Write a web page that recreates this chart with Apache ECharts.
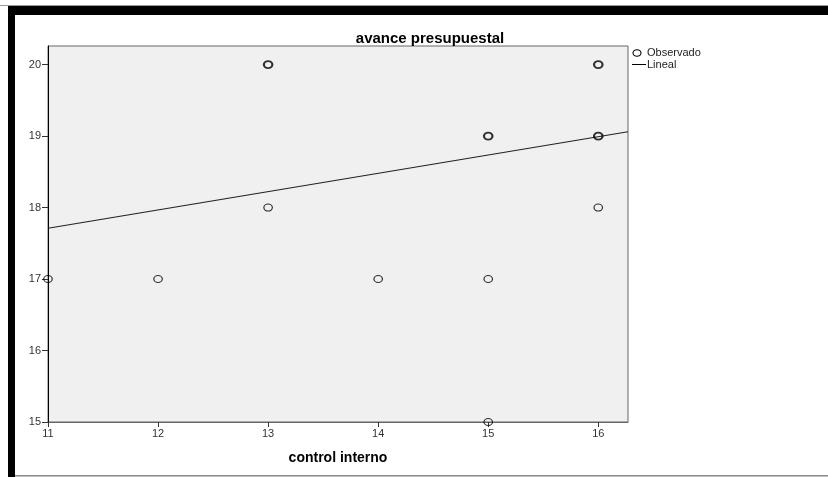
<!DOCTYPE html>
<html>
<head>
<meta charset="utf-8">
<script src="https://cdn.jsdelivr.net/npm/echarts@6/dist/echarts.min.js"></script>
<style>
html,body{margin:0;padding:0;background:#fff;}
#c{width:828px;height:477px;}
</style>
</head>
<body>
<div id="c"></div>
<script>
// Data
const titleText = 'avance presupuestal';
const xName = 'control interno';
const obsX = [11, 12, 13, 13, 14, 15, 15, 15, 16, 16, 16];
const obsY = [17, 17, 20, 18, 17, 19, 17, 15, 20, 19, 18];
const obsCount = [1, 1, 2, 1, 1, 2, 1, 1, 2, 2, 1];
const lineX = [11, 16.27];
const lineY = [17.71, 19.06];
const legendNames = ['Observado', 'Lineal'];

const chart = echarts.init(document.getElementById('c'), null, {renderer: 'canvas'});
const font = 'Arial, "Liberation Sans", sans-serif';

const scatterData = obsX.map((x, i) => ({
  value: [x, obsY[i]],
  itemStyle: {borderWidth: obsCount[i] > 1 ? 2 : 1.1}
}));
const lineData = lineX.map((x, i) => [x, lineY[i]]);

chart.setOption({
  animation: false,
  backgroundColor: '#fff',
  title: {
    text: titleText,
    left: 425, top: 26, textAlign: 'center',
    textStyle: {fontFamily: font, fontSize: 15, fontWeight: 'bold', color: '#000'}
  },
  grid: {
    left: 48, right: 200, top: 46, bottom: 55,
    show: true, backgroundColor: '#f0f0f0', borderColor: '#666', borderWidth: 1
  },
  xAxis: {
    type: 'value', min: 11, max: 16.27, interval: 1,
    name: xName, nameLocation: 'middle', nameGap: 29,
    nameTextStyle: {fontFamily: font, fontSize: 14, fontWeight: 'bold', color: '#000'},
    axisLine: {show: true, lineStyle: {color: '#666', width: 1}},
    axisTick: {show: true, length: 5, inside: false, lineStyle: {color: '#333'}},
    axisLabel: {fontFamily: font, fontSize: 11, color: '#333', margin: 6, showMaxLabel: false,
      formatter: v => Number.isInteger(v) ? String(v) : ''},
    splitLine: {show: false}
  },
  yAxis: {
    type: 'value', min: 15, max: 20.26, interval: 1,
    axisLine: {show: true, lineStyle: {color: '#000', width: 1}},
    axisTick: {show: true, length: 6, lineStyle: {color: '#333'}},
    axisLabel: {fontFamily: font, fontSize: 11, color: '#333', margin: 7, showMaxLabel: false,
      formatter: v => Number.isInteger(v) ? String(v) : ''},
    splitLine: {show: false}
  },
  series: [
    {
      name: legendNames[1], type: 'line', data: lineData, symbol: 'none',
      lineStyle: {color: '#222', width: 1.2}, z: 2
    },
    {
      name: legendNames[0], type: 'scatter', data: scatterData,
      symbol: 'circle', symbolSize: [8.5, 7],
      itemStyle: {color: 'rgba(0,0,0,0)', borderColor: '#000'}, z: 3
    }
  ],
  graphic: [
    {type: 'rect', shape: {x: 0, y: 5, width: 828, height: 1}, style: {fill: '#999'}, silent: true},
    {type: 'rect', shape: {x: 8, y: 6, width: 820, height: 9}, style: {fill: '#000'}, silent: true},
    {type: 'rect', shape: {x: 8, y: 6, width: 7, height: 471}, style: {fill: '#000'}, silent: true},
    {type: 'rect', shape: {x: 15, y: 475, width: 813, height: 1.5}, style: {fill: '#888'}, silent: true},
    {type: 'ellipse', shape: {cx: 637, cy: 53, rx: 4, ry: 3.3}, style: {fill: 'none', stroke: '#000', lineWidth: 1.1}},
    {type: 'text', left: 647, top: 47, style: {text: legendNames[0], font: '11px ' + font, fill: '#222'}},
    {type: 'line', shape: {x1: 632, y1: 64.5, x2: 646, y2: 64.5}, style: {stroke: '#000', lineWidth: 1}},
    {type: 'text', left: 647, top: 59, style: {text: legendNames[1], font: '11px ' + font, fill: '#222'}}
  ]
});
</script>
</body>
</html>
